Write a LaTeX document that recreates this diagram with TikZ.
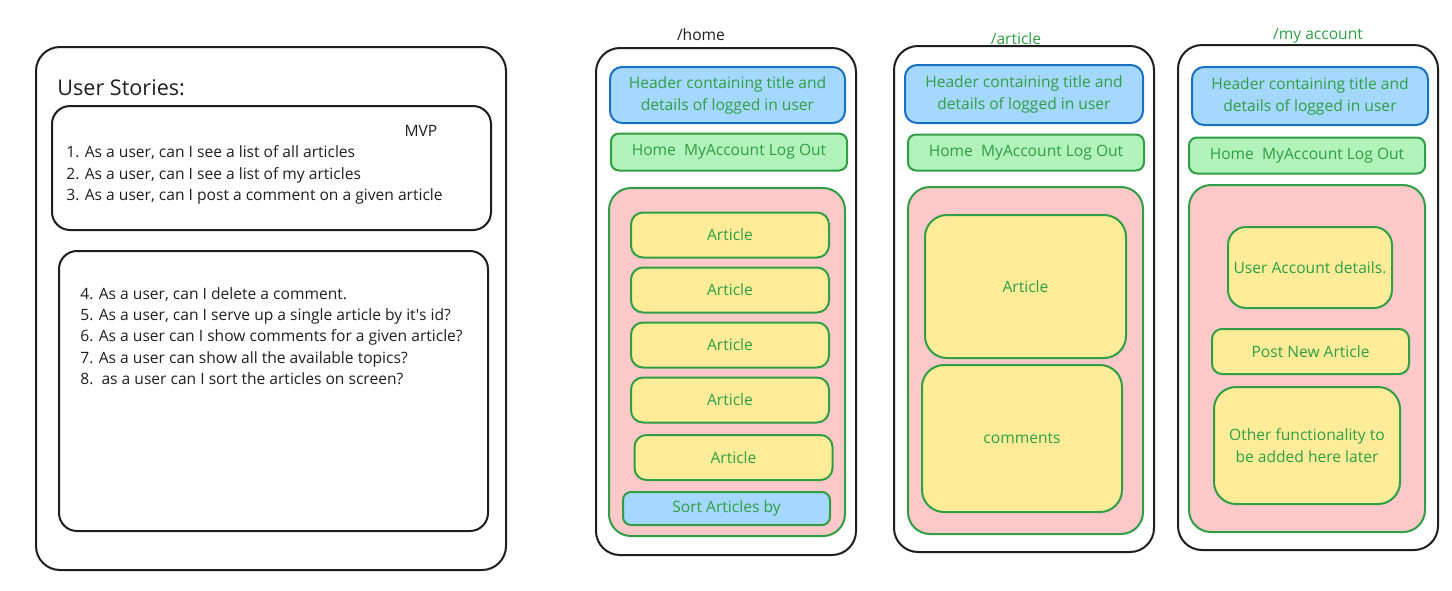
\documentclass[tikz,border=0pt]{standalone}
\usepackage{fontspec}
\setmainfont{Open Sans}
\usepackage{xcolor}
\definecolor{inkblack}{HTML}{1E1E1E}
\definecolor{hdrfill}{HTML}{A5D8FF}
\definecolor{hdrline}{HTML}{1971C2}
\definecolor{navfill}{HTML}{B2F2BB}
\definecolor{grn}{HTML}{2F9E44}
\definecolor{bodyfill}{HTML}{FFC9C9}
\definecolor{cardfill}{HTML}{FFEC99}

\begin{document}
\begin{tikzpicture}[x=0.5pt, y=-0.5pt, every node/.style={font=\fontsize{7.8}{11}\selectfont}]
\tikzset{frame/.style={draw=inkblack, line width=1pt, rounded corners=12pt, inner sep=0pt}}
\tikzset{storybox/.style={draw=inkblack, line width=1pt, rounded corners=9pt, inner sep=0pt}}
\tikzset{header/.style={draw=hdrline, fill=hdrfill, line width=1pt, rounded corners=6pt, text=grn, align=center, inner sep=0pt}}
\tikzset{navbar/.style={draw=grn, fill=navfill, line width=1pt, rounded corners=4pt, text=grn, inner sep=0pt}}
\tikzset{pagebody/.style={draw=grn, fill=bodyfill, line width=1pt, rounded corners=11pt, inner sep=0pt}}
\tikzset{card/.style={draw=grn, fill=cardfill, line width=1pt, rounded corners=6pt, text=grn, align=center, inner sep=0pt}}
\tikzset{route/.style={inner sep=0pt}}
\tikzset{storytext/.style={anchor=west, align=left, inner sep=0pt, text=inkblack, font=\fontsize{7.8}{10.6}\selectfont}}
\useasboundingbox (0,0) rectangle (1452,590);

% user stories
\node[frame, minimum width=235pt, minimum height=261.5pt] (stories) at (271,308.5) {};
\node[anchor=west, inner sep=0pt, text=inkblack, font=\fontsize{10.8}{12}\selectfont] (storytitle) at (57,88) {User Stories:};
\node[storybox, minimum width=219.5pt, minimum height=62pt] (mvpbox) at (271.5,168) {};
\node[inner sep=0pt, text=inkblack, font=\fontsize{7.8}{10.6}\selectfont] (mvp) at (421,131) {MVP};
\node[storytext] (mvplist) at (66,175) {1. As a user, can I see a list of all articles\\2. As a user, can I see a list of my articles\\3. As a user, can I post a comment on a given article};
\node[storybox, minimum width=214.5pt, minimum height=140pt] (morebox) at (273.5,391) {};
\node[storytext] (morelist) at (80,336) {4. As a user, can I delete a comment.\\5. As a user, can I serve up a single article by it\textquotesingle s id?\\6. As a user can I show comments for a given article?\\7. As a user can show all the available topics?\\8.\ \ as a user can I sort the articles on screen?};

% /home
\node[route, text=inkblack] (homeroute) at (701,35) {/home};
\node[frame, minimum width=130pt, minimum height=253.5pt] (homephone) at (726,301.5) {};
\node[header, minimum width=117.5pt, minimum height=28pt] (homehdr) at (727.5,95) {Header containing title and\\details of logged in user};
\node[navbar, minimum width=118pt, minimum height=18.5pt] (homenav) at (729,152) {Home\ \ MyAccount Log Out};
\node[pagebody, minimum width=118pt, minimum height=174pt] (homebody) at (727,362) {};
\foreach \y [count=\i] in {235,290,345,400} {
  \node[card, minimum width=99pt, minimum height=22.5pt] (homeart\i) at (730,\y) {Article};
}
\node[card, minimum width=99pt, minimum height=22.5pt] (homeart5) at (733.5,457.5) {Article};
\node[header, draw=grn, rounded corners=4pt, minimum width=103.5pt, minimum height=16.5pt] (homesort) at (726.5,508.5) {Sort Articles by};

% /article
\node[route, text=grn] (artroute) at (1016,39) {/article};
\node[frame, minimum width=130pt, minimum height=253pt] (artphone) at (1024,299) {};
\node[header, minimum width=119pt, minimum height=29pt] (arthdr) at (1024,94) {Header containing title and\\details of logged in user};
\node[navbar, minimum width=118pt, minimum height=18pt] (artnav) at (1026,152.5) {Home\ \ MyAccount Log Out};
\node[pagebody, minimum width=117.5pt, minimum height=173.5pt] (artbody) at (1025.5,360.5) {};
\node[card, rounded corners=11pt, minimum width=100.5pt, minimum height=71.5pt] (artcard) at (1025.5,286.5) {Article};
\node[card, rounded corners=11pt, minimum width=100pt, minimum height=73.5pt] (artcomments) at (1022,438.5) {comments};

% /my account
\node[route, text=grn] (accroute) at (1318,36) {/my account};
\node[frame, minimum width=130pt, minimum height=252.5pt] (accphone) at (1308,297.5) {};
\node[header, minimum width=118pt, minimum height=29pt] (acchdr) at (1310,96) {Header containing title and\\details of logged in user};
\node[navbar, minimum width=118pt, minimum height=18pt] (accnav) at (1307,155.5) {Home\ \ MyAccount Log Out};
\node[pagebody, minimum width=118pt, minimum height=173.5pt] (accbody) at (1307,358.5) {};
\node[card, rounded corners=9pt, minimum width=82pt, minimum height=40.5pt] (accdetails) at (1310,267.5) {User Account details.};
\node[card, rounded corners=5pt, minimum width=98.5pt, minimum height=22.5pt] (accpost) at (1310.5,351.5) {Post New Article};
\node[card, rounded corners=11pt, minimum width=93pt, minimum height=58.5pt] (accother) at (1307,445.5) {Other functionality to\\be added here later};
\end{tikzpicture}
\end{document}
